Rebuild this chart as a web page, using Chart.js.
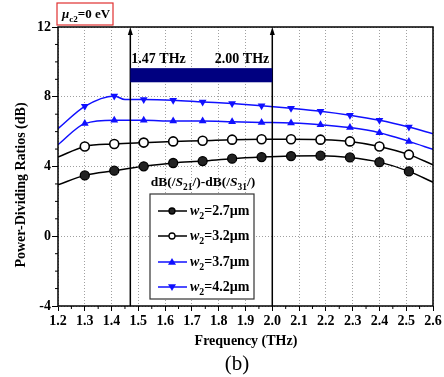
<!DOCTYPE html>
<html lang="en">
<head>
    <meta charset="UTF-8">
    <title>Power-Dividing Ratios</title>
    <script src="https://cdn.jsdelivr.net/npm/chart.js"></script>
    <style>
        body { margin: 0; background: #fff; }
        #wrap { width: 444px; height: 377px; }
    </style>
</head>
<body>
<div id="wrap"><canvas id="ratioChart" width="444" height="377"></canvas></div>
<script>
    // frequency samples (THz); markers sit on the inner ones
    const freq = [1.2, 1.30, 1.41, 1.52, 1.63, 1.74, 1.85, 1.96, 2.07, 2.18, 2.29, 2.40, 2.51, 2.6];
    const w27 = [2.95, 3.49, 3.76, 4.01, 4.20, 4.31, 4.45, 4.54, 4.60, 4.62, 4.52, 4.25, 3.72, 3.10];
    const w32 = [4.54, 5.15, 5.29, 5.37, 5.44, 5.48, 5.54, 5.56, 5.56, 5.54, 5.44, 5.15, 4.68, 4.10];
    const w37 = [5.25, 6.46, 6.65, 6.65, 6.61, 6.61, 6.57, 6.53, 6.49, 6.40, 6.23, 5.94, 5.44, 4.98];
    // 4.2um curve has a small dip just after the 1.41 peak
    const freq42 = [1.2, 1.30, 1.41, 1.45, 1.52, 1.63, 1.74, 1.85, 1.96, 2.07, 2.18, 2.29, 2.40, 2.51, 2.6];
    const w42 = [6.17, 7.45, 8.05, 7.84, 7.84, 7.80, 7.70, 7.61, 7.49, 7.34, 7.17, 6.94, 6.65, 6.26, 5.88];
    const markerOff42 = [1.2, 1.45, 2.6];

    const bandStart = 1.47, bandEnd = 2.00;
    const bandTop = 9.64, bandBottom = 8.83;
    const yTicks = [-4, 0, 4, 8, 12];

    const serif = "'Liberation Serif', 'Times New Roman', serif";
    const blue = '#1010ff';

    function toXY(xs, ys) {
        return xs.map((x, i) => ({x: x, y: ys[i]}));
    }
    function radii(xs, off) {
        return xs.map(x => off.includes(x) ? 0 : 4.5);
    }

    // draw a run of text pieces: [text, italic, sub]
    function richText(ctx, x, y, parts, size) {
        let cx = x;
        parts.forEach(p => {
            const s = p[2] ? size * 0.7 : size;
            ctx.font = (p[1] ? 'italic ' : '') + 'bold ' + s + 'px ' + serif;
            ctx.fillText(p[0], cx, p[2] ? y + size * 0.3 : y);
            cx += ctx.measureText(p[0]).width;
        });
        return cx - x;
    }
    function measureRich(ctx, parts, size) {
        let w = 0;
        parts.forEach(p => {
            const s = p[2] ? size * 0.7 : size;
            ctx.font = (p[1] ? 'italic ' : '') + 'bold ' + s + 'px ' + serif;
            w += ctx.measureText(p[0]).width;
        });
        return w;
    }

    function marker(ctx, kind, x, y, r) {
        ctx.save();
        ctx.lineWidth = 1.3;
        ctx.beginPath();
        if (kind === 'fill' || kind === 'open') {
            ctx.arc(x, y, r, 0, Math.PI * 2);
            ctx.fillStyle = kind === 'fill' ? '#222' : '#fff';
            ctx.strokeStyle = '#000';
            ctx.fill(); ctx.stroke();
        } else {
            const d = kind === 'up' ? 1 : -1;
            ctx.moveTo(x, y - d * r);
            ctx.lineTo(x + r, y + d * r * 0.7);
            ctx.lineTo(x - r, y + d * r * 0.7);
            ctx.closePath();
            ctx.fillStyle = blue;
            ctx.fill();
        }
        ctx.restore();
    }

    const decorPlugin = {
        id: 'decor',
        afterDraw(chart) {
            const ctx = chart.ctx;
            const xs = chart.scales.x, ys = chart.scales.y;
            const a = chart.chartArea;
            ctx.save();

            // frame
            ctx.strokeStyle = '#000';
            ctx.lineWidth = 1.5;
            ctx.strokeRect(a.left, a.top, a.right - a.left, a.bottom - a.top);

            // minor ticks
            ctx.lineWidth = 1;
            for (let v = 1.25; v < 2.6; v += 0.1) {
                const px = xs.getPixelForValue(v);
                ctx.beginPath(); ctx.moveTo(px, a.bottom); ctx.lineTo(px, a.bottom + 3); ctx.stroke();
            }
            for (let v = -3; v < 12; v++) {
                if (v % 4 === 0) continue;
                const py = ys.getPixelForValue(v);
                ctx.beginPath(); ctx.moveTo(a.left - 3, py); ctx.lineTo(a.left, py); ctx.stroke();
            }

            // band arrows
            ctx.lineWidth = 1.5;
            [bandStart, bandEnd].forEach(f => {
                const px = xs.getPixelForValue(f);
                ctx.beginPath(); ctx.moveTo(px, a.bottom); ctx.lineTo(px, a.top + 4); ctx.stroke();
                ctx.beginPath();
                ctx.moveTo(px, a.top);
                ctx.lineTo(px - 2.5, a.top + 8);
                ctx.lineTo(px + 2.5, a.top + 8);
                ctx.closePath();
                ctx.fillStyle = '#000';
                ctx.fill();
            });
            const bx0 = xs.getPixelForValue(bandStart), bx1 = xs.getPixelForValue(bandEnd);
            const by0 = ys.getPixelForValue(bandTop), by1 = ys.getPixelForValue(bandBottom);
            ctx.fillStyle = '#000080';
            ctx.fillRect(bx0, by0, bx1 - bx0, by1 - by0);
            ctx.fillStyle = '#000';
            ctx.font = 'bold 14px ' + serif;
            ctx.textBaseline = 'alphabetic';
            ctx.textAlign = 'left';
            ctx.fillText('1.47 THz', bx0 + 1, by0 - 5);
            ctx.textAlign = 'right';
            ctx.fillText('2.00 THz', bx1 - 3, by0 - 5);

            // legend
            ctx.textAlign = 'left';
            const title = [['dB(/', false, false], ['S', true, false], ['21', false, true], ['/)-dB(/', false, false],
                ['S', true, false], ['31', false, true], ['/)', false, false]];
            const tw = measureRich(ctx, title, 13.5);
            richText(ctx, 203 - tw / 2, 186, title, 13.5);
            ctx.lineWidth = 1.2;
            ctx.strokeStyle = '#333';
            ctx.fillStyle = '#fff';
            ctx.fillRect(150, 194, 104, 105);
            ctx.strokeRect(150, 194, 104, 105);
            const entries = [['2.7', 'fill', '#000', 211], ['3.2', 'open', '#000', 236],
                ['3.7', 'up', blue, 262], ['4.2', 'down', blue, 287]];
            entries.forEach(e => {
                ctx.strokeStyle = e[2];
                ctx.lineWidth = 1.5;
                ctx.beginPath(); ctx.moveTo(158, e[3]); ctx.lineTo(187, e[3]); ctx.stroke();
                marker(ctx, e[1], 172, e[3], e[1] === 'fill' || e[1] === 'open' ? 3 : 4);
                ctx.fillStyle = '#000';
                richText(ctx, 190, e[3] + 4, [['w', true, false], ['2', false, true], ['=' + e[0] + '\u00b5m', false, false]], 14);
            });

            // axis titles
            ctx.fillStyle = '#000';
            ctx.font = 'bold 14px ' + serif;
            ctx.textAlign = 'center';
            ctx.fillText('Frequency (THz)', 246, 345);
            ctx.font = '21px ' + serif;
            ctx.fillText('(b)', 237, 370);
            ctx.save();
            ctx.translate(25, 185);
            ctx.rotate(-Math.PI / 2);
            ctx.font = 'bold 14px ' + serif;
            ctx.fillText('Power-Dividing Ratios (dB)', 0, 0);
            ctx.restore();

            // condition label
            ctx.strokeStyle = '#e03030';
            ctx.lineWidth = 1.2;
            ctx.strokeRect(57, 3, 56, 22);
            ctx.textAlign = 'left';
            ctx.fillStyle = '#000';
            richText(ctx, 62, 18, [['\u03bc', true, false], ['c2', false, true], ['=0 eV', false, false]], 13);

            ctx.restore();
        }
    };

    const ctx = document.getElementById('ratioChart').getContext('2d');
    const ratioChart = new Chart(ctx, {
        type: 'line',
        data: {
            datasets: [
                {
                    label: 'w2=2.7um', data: toXY(freq, w27),
                    borderColor: '#000', backgroundColor: '#222', pointBorderColor: '#000',
                    pointStyle: 'circle', pointRadius: radii(freq, [1.2, 2.6]), pointBorderWidth: 1.3
                },
                {
                    label: 'w2=3.2um', data: toXY(freq, w32),
                    borderColor: '#000', backgroundColor: '#fff', pointBorderColor: '#000',
                    pointStyle: 'circle', pointRadius: radii(freq, [1.2, 2.6]), pointBorderWidth: 1.6
                },
                {
                    label: 'w2=3.7um', data: toXY(freq, w37),
                    borderColor: blue, backgroundColor: blue,
                    pointStyle: 'triangle', pointRadius: radii(freq, [1.2, 2.6]), pointBorderWidth: 0
                },
                {
                    label: 'w2=4.2um', data: toXY(freq42, w42),
                    borderColor: blue, backgroundColor: blue,
                    pointStyle: 'triangle', pointRotation: 180,
                    pointRadius: radii(freq42, markerOff42), pointBorderWidth: 0
                }
            ]
        },
        options: {
            responsive: false,
            animation: false,
            devicePixelRatio: 1,
            layout: { padding: { top: 27, right: 11, left: 0, bottom: 0 } },
            elements: {
                line: { borderWidth: 1.5, cubicInterpolationMode: 'monotone' }
            },
            plugins: {
                legend: { display: false },
                tooltip: { enabled: false }
            },
            scales: {
                x: {
                    type: 'linear',
                    min: 1.2, max: 2.6,
                    afterFit: s => { s.height = 71; },
                    afterBuildTicks: s => {
                        s.ticks = [];
                        for (let i = 0; i <= 14; i++) s.ticks.push({value: Math.round((1.2 + i * 0.1) * 10) / 10});
                    },
                    grid: { color: '#a0a0a0', tickColor: '#000', tickLength: 5, tickWidth: 1 },
                    border: { display: false, dash: [1, 2] },
                    ticks: {
                        padding: 2,
                        color: '#000',
                        font: { family: serif, size: 14, weight: 'bold' },
                        maxRotation: 0, autoSkip: false,
                        callback: v => v.toFixed(1)
                    }
                },
                y: {
                    min: -4, max: 12,
                    afterFit: s => { s.width = 58; },
                    afterBuildTicks: s => { s.ticks = yTicks.map(v => ({value: v})); },
                    grid: { color: '#a0a0a0', tickColor: '#000', tickLength: 6, tickWidth: 1 },
                    border: { display: false, dash: [1, 2] },
                    ticks: {
                        padding: 1,
                        color: '#000',
                        font: { family: serif, size: 14, weight: 'bold' }
                    }
                }
            }
        },
        plugins: [decorPlugin]
    });
</script>
</body>
</html>
